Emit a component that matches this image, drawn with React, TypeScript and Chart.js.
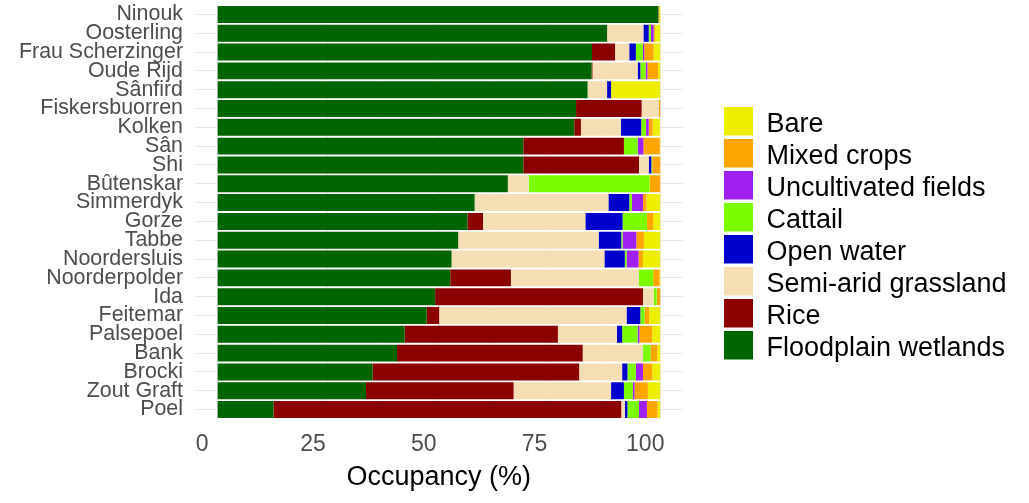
import { useEffect, useRef } from 'react';
import { Chart, registerables } from 'chart.js';

Chart.register(...registerables);

const categories = [
  'Ninouk', 'Oosterling', 'Frau Scherzinger', 'Oude Rijd', 'Sânfird', 'Fiskersbuorren',
  'Kolken', 'Sân', 'Shi', 'Bûtenskar', 'Simmerdyk', 'Gorze', 'Tabbe', 'Noordersluis',
  'Noorderpolder', 'Ida', 'Feitemar', 'Palsepoel', 'Bank', 'Brocki', 'Zout Graft', 'Poel',
];

const floodplainWetlands = [99.6, 88.0, 84.6, 84.5, 83.6, 81.0, 80.6, 69.1, 69.1, 65.6, 58.1, 56.5, 54.4, 52.9, 52.6, 49.2, 47.3, 42.3, 40.6, 35.1, 33.6, 12.7];
const rice = [0, 0, 5.2, 0.2, 0, 14.8, 1.5, 22.7, 26.1, 0, 0, 3.5, 0, 0, 13.7, 46.9, 2.8, 34.6, 41.9, 46.6, 33.3, 78.5];
const semiAridGrassland = [0, 8.2, 3.2, 10.2, 4.4, 3.9, 9.0, 0, 2.2, 4.7, 30.2, 23.1, 31.7, 34.5, 28.9, 2.4, 42.3, 13.3, 13.6, 9.7, 22.0, 0.8];
const openWater = [0, 1.2, 1.5, 0.6, 0.9, 0, 4.6, 0, 0.6, 0, 4.7, 8.4, 5.1, 4.6, 0, 0, 3.1, 1.2, 0, 1.2, 2.9, 0.6];
const cattail = [0, 0.5, 1.6, 1.2, 0, 0, 1.1, 3.1, 0.2, 27.3, 0.6, 5.5, 0.3, 0.4, 3.2, 0.7, 1.0, 3.5, 1.7, 1.9, 2.0, 2.6];
const uncultivatedFields = [0, 0.6, 0.3, 0.4, 0, 0, 0.6, 1.3, 0, 0, 2.5, 0, 3.1, 2.7, 0, 0, 0, 0.4, 0, 1.6, 0.4, 1.8];
const mixedCrops = [0.2, 0.3, 2.1, 2.4, 0, 0.3, 0.9, 3.7, 1.8, 2.4, 0.8, 1.4, 1.7, 1.0, 1.4, 0.8, 1.0, 2.9, 1.5, 2.1, 3.0, 2.4];
const bare = [0.2, 1.2, 1.5, 0.5, 11.1, 0, 1.6, 0.1, 0, 0, 3.1, 1.6, 3.7, 3.9, 0.2, 0, 2.5, 1.8, 0.7, 1.8, 2.8, 0.6];

const seriesNames = ['Floodplain wetlands', 'Rice', 'Semi-arid grassland', 'Open water', 'Cattail', 'Uncultivated fields', 'Mixed crops', 'Bare'];
const seriesColors = ['#006400', '#8B0000', '#F5DEB3', '#0000CD', '#7CFC00', '#A020F0', '#FFA500', '#EEEE00'];
const xTickValues = [0, 12.5, 25, 37.5, 50, 62.5, 75, 87.5, 100];

function makeSwatch(color: string) {
  const c = document.createElement('canvas');
  c.width = 29;
  c.height = 37;
  const g = c.getContext('2d');
  if (g) {
    g.fillStyle = color;
    g.fillRect(0, 0, 29, 29);
  }
  return c;
}

export default function App() {
  const ref = useRef<HTMLCanvasElement | null>(null);

  useEffect(() => {
    if (!ref.current) return;
    const family = '"Liberation Sans", Arial, sans-serif';
    const values = [floodplainWetlands, rice, semiAridGrassland, openWater, cattail, uncultivatedFields, mixedCrops, bare];
    const swatches = seriesColors.map(makeSwatch);

    const chart = new Chart(ref.current, {
      type: 'bar',
      data: {
        labels: categories,
        datasets: seriesNames.map((name, i) => ({
          label: name,
          data: values[i],
          backgroundColor: seriesColors[i],
          borderWidth: 0,
          barPercentage: 0.9,
          categoryPercentage: 1,
        })),
      },
      options: {
        indexAxis: 'y',
        animation: false,
        responsive: false,
        maintainAspectRatio: false,
        layout: { padding: { left: 10, right: 12.5, top: 5, bottom: 5 } },
        scales: {
          x: {
            stacked: true,
            min: -5,
            max: 105,
            afterBuildTicks: (s: any) => {
              s.ticks = xTickValues.map((v) => ({ value: v }));
            },
            afterFit: (s: any) => {
              s.height = 79;
              s.paddingLeft = 0;
              s.paddingRight = 0;
            },
            ticks: {
              autoSkip: false,
              maxRotation: 0,
              padding: 12,
              labelOffset: -15,
              color: '#4D4D4D',
              font: { family, size: 23 },
              callback: (v: any) => (Number(v) % 25 === 0 ? String(v) : ''),
            },
            grid: {
              drawTicks: false,
              color: (c: any) => (c.tick && c.tick.value % 25 === 0 ? '#EBEBEB' : '#F2F2F2'),
              lineWidth: (c: any) => (c.tick && c.tick.value % 25 === 0 ? 1 : 0.7),
            },
            border: { display: false },
            title: {
              display: true,
              text: 'Occupancy (%)',
              color: '#000000',
              font: { family, size: 27 },
              padding: { top: 4, bottom: 4 },
            },
          },
          y: {
            stacked: true,
            offset: true,
            afterFit: (s: any) => {
              s.width = 185;
              s.paddingTop = 0;
              s.paddingBottom = 0;
            },
            ticks: {
              autoSkip: false,
              padding: 12,
              color: '#4D4D4D',
              font: { family, size: 21.4 },
            },
            grid: { offset: false, drawTicks: false, color: '#E6E6E6', lineWidth: 1 },
            border: { display: false },
          },
          yR: {
            type: 'linear',
            position: 'right',
            axis: 'y',
            display: true,
            afterFit: (s: any) => {
              s.width = 36.5;
              s.paddingTop = 0;
              s.paddingBottom = 0;
            },
            grid: { display: false },
            ticks: { display: false },
            border: { display: false },
          },
        },
        plugins: {
          tooltip: { enabled: false },
          legend: {
            position: 'right',
            align: 'start',
            reverse: true,
            maxWidth: 400,
            title: {
              display: true,
              text: ' ',
              font: { size: 1, lineHeight: 1 },
              padding: { top: 0, bottom: 100.5 },
            },
            labels: {
              usePointStyle: true,
              pointStyleWidth: 29,
              padding: 5,
              color: '#000000',
              font: { family, size: 27 },
              generateLabels: (ch: any) =>
                Chart.defaults.plugins.legend.labels
                  .generateLabels(ch)
                  .map((it: any) => ({ ...it, pointStyle: swatches[it.datasetIndex] })),
            },
          },
        },
      } as any,
    });
    return () => chart.destroy();
  }, []);

  return (
    <div style={{ position: 'absolute', left: 0, top: 0, width: 1029, height: 503, background: '#ffffff' }}>
      <canvas ref={ref} width={1029} height={503} style={{ display: 'block' }} />
    </div>
  );
}
